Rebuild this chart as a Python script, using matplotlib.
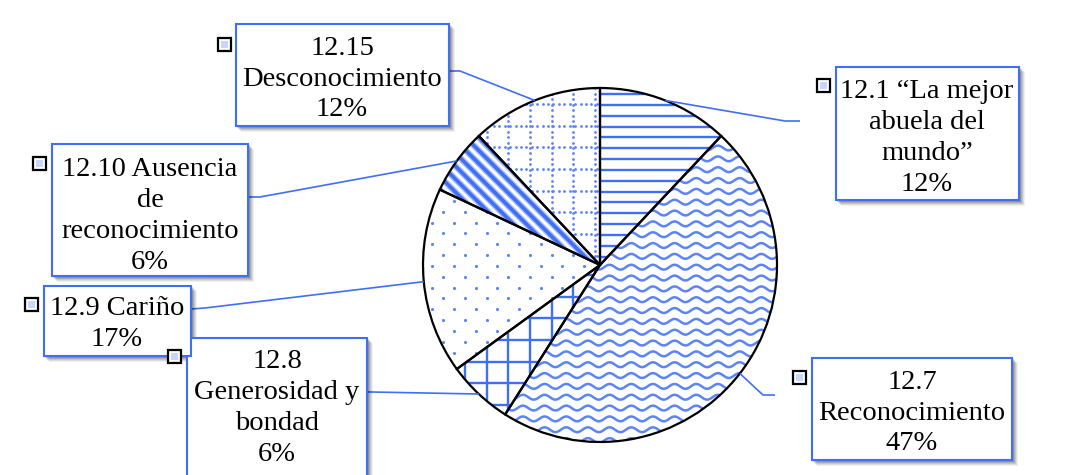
import numpy as np
import matplotlib
matplotlib.use("Agg")
import matplotlib.pyplot as plt
from matplotlib.patches import Rectangle
from matplotlib.collections import LineCollection

# ---- data ----
categories = ['12.1 “La mejor\nabuela del\nmundo”', '12.7\nReconocimiento',
              '12.8\nGenerosidad y\nbondad', '12.9 Cariño',
              '12.10 Ausencia\nde\nreconocimiento', '12.15\nDesconocimiento']
values = [12, 47, 6, 17, 6, 12]

# ---- layout (pixel coordinates) ----
W, H = 1071, 475
CX, CY, R = 600, 265, 177
BLUE = '#3f6ff5'
LIGHT = '#5b84f6'
# label boxes: (x0, y0, x1, y1)
boxes = [(836, 67, 1019, 200), (812, 358, 1012, 460), (187, 338, 367, 480),
         (44, 286, 191, 356), (52, 144, 248, 276), (236, 24, 449, 126)]
text_centers = [(927, 138), (912, 413), (277, 408), (117, 324), (150, 216), (342, 79)]
keys = [(817, 79), (793, 371), (168, 350), (25, 298), (33, 157), (218, 38)]
# leader elbow and end points
leaders = [((785, 121), (800, 121)), ((763, 395), (775, 395)), ((372, 392), (367, 392)),
           ((205, 308), (191, 309)), ((260, 197), (248, 197)), ((460, 71), (449, 71))]

fig = plt.figure(figsize=(W / 100, H / 100), dpi=100)
ax = fig.add_axes([0, 0, 1, 1])

wedges, _ = ax.pie(values, startangle=270, counterclock=True, center=(CX, CY), radius=R,
                   colors=['none'] * len(values),
                   wedgeprops=dict(edgecolor='black', linewidth=1.6, zorder=3))
ax.set_xlim(0, W)
ax.set_ylim(H, 0)
ax.set_aspect('auto')
ax.axis('off')

x0b, x1b = CX - R - 5, CX + R + 5
y0b, y1b = CY - R - 5, CY + R + 5
T = 21.67
h = T / 2

# 12.1 horizontal lines
ys = np.arange(94 - 20 * h, y1b, h)
segs = [[(x0b, y), (x1b, y)] for y in ys]
lc = LineCollection(segs, colors=BLUE, linewidths=1.7, zorder=1)
ax.add_collection(lc); lc.set_clip_path(wedges[0])

# 12.7 waves
xs = np.linspace(x0b, x1b, 2000)
segs = [np.column_stack([xs, y + 2.4 * np.sin(2 * np.pi * (xs - 420) / T)])
        for y in np.arange(y0b, y1b, h)]
lc = LineCollection(segs, colors=LIGHT, linewidths=1.8, zorder=1)
ax.add_collection(lc); lc.set_clip_path(wedges[1])

# 12.8 grid
segs = [[(x, y0b), (x, y1b)] for x in np.arange(486.7 - 30 * T, x1b, T)]
segs += [[(x0b, y), (x1b, y)] for y in np.arange(361.7 - 30 * T, y1b, T)]
lc = LineCollection(segs, colors=BLUE, linewidths=1.7, zorder=1)
ax.add_collection(lc); lc.set_clip_path(wedges[2])

# 12.9 staggered dots
px, py = [], []
for j, y in enumerate(np.arange(211.7 - 40 * h, y1b, h)):
    off = 0 if j % 2 == 0 else -h
    for x in np.arange(443.3 - 30 * T + off, x1b, T):
        px.append(x); py.append(y)
sc = ax.scatter(px, py, s=5, color=LIGHT, linewidths=0, zorder=1)
sc.set_clip_path(wedges[3])

# 12.10 thick diagonal stripes
segs = []
for c in np.arange(-328.3 - 60 * 13, 400, 13):
    segs.append([(x0b, x0b + c), (x1b, x1b + c)])
lc = LineCollection(segs, colors='#a9bdfa', linewidths=4.6, zorder=1)
ax.add_collection(lc); lc.set_clip_path(wedges[4])
lc = LineCollection(segs, colors=BLUE, linewidths=2.6, zorder=1)
ax.add_collection(lc); lc.set_clip_path(wedges[4])

# 12.15 dotted grid
px, py = [], []
for x in np.arange(530 - 30 * T, x1b, T):
    for y in np.arange(y0b, y1b, T / 4):
        px.append(x); py.append(y)
for y in np.arange(104 - 30 * T, y1b, T):
    for x in np.arange(x0b, x1b, T / 4):
        px.append(x); py.append(y)
sc = ax.scatter(px, py, s=4, color=LIGHT, linewidths=0, zorder=1)
sc.set_clip_path(wedges[5])

# leaders, boxes, labels
for i, w in enumerate(wedges):
    tm = np.deg2rad((w.theta1 + w.theta2) / 2)
    sx, sy = CX + R * np.cos(tm), CY + R * np.sin(tm)
    (ex, ey), (fx, fy) = leaders[i]
    ax.plot([sx, ex, fx], [sy, ey, fy], color=BLUE, lw=1.2, zorder=4, solid_capstyle='butt')

    bx0, by0, bx1, by1 = boxes[i]
    for k, a in zip([6, 5, 4, 3, 2], [0.06, 0.08, 0.1, 0.12, 0.14]):
        ax.add_patch(Rectangle((bx0 + k - 1, by0 + k - 1), bx1 - bx0 + 1, by1 - by0 + 1,
                               facecolor='black', edgecolor='none', alpha=a, zorder=4.5))
    ax.add_patch(Rectangle((bx0, by0), bx1 - bx0, by1 - by0, facecolor='white',
                           edgecolor=BLUE, lw=1.5, zorder=5))
    tx, ty = text_centers[i]
    ax.text(tx, ty, f"{categories[i]}\n{values[i]}%", ha='center', va='center',
            fontsize=20.5, family='Liberation Serif', linespacing=1.3, zorder=6)
    kx, ky = keys[i]
    ax.add_patch(Rectangle((kx, ky), 13, 13, facecolor='white', edgecolor='black',
                           lw=1.6, zorder=7))
    ax.add_patch(Rectangle((kx + 3, ky + 3), 7, 7, facecolor='#c9d6fc', edgecolor='none',
                           zorder=7.5))

fig.savefig('out.png', dpi=100, facecolor='white')
